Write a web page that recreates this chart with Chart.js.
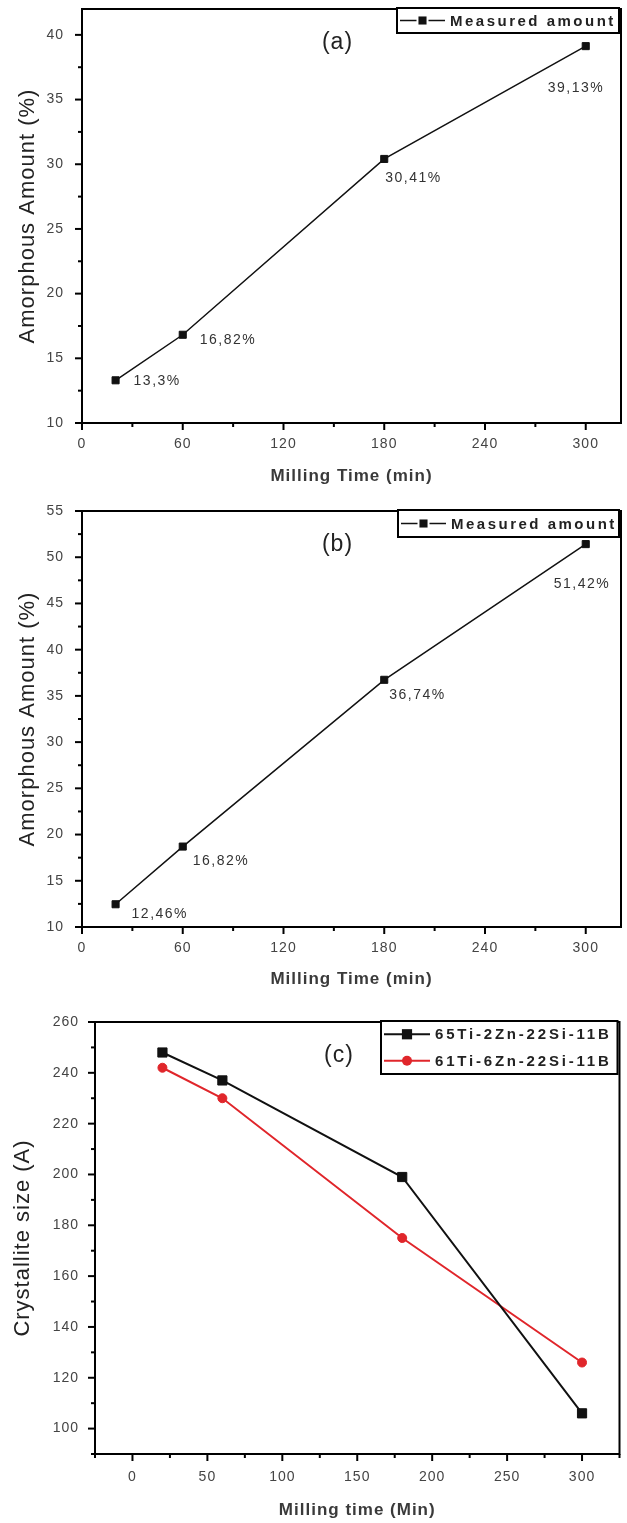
<!DOCTYPE html>
<html>
<head>
<meta charset="utf-8">
<script src="https://cdn.jsdelivr.net/npm/chart.js@4.4.1/dist/chart.umd.min.js"></script>
<style>
  html, body { margin: 0; padding: 0; background: #fff; }
  body { width: 627px; height: 1523px; position: relative; overflow: hidden; }
  canvas { position: absolute; left: 0; }
</style>
</head>
<body>
<canvas id="chartA" width="627" height="495" style="top:0px"></canvas>
<canvas id="chartB" width="627" height="518" style="top:495px"></canvas>
<canvas id="chartC" width="627" height="510" style="top:1013px"></canvas>
<script>
// ============================================
// DADOS
// ============================================
const tempos     = [20, 60, 180, 300];

const amorfoA    = [13.3, 16.82, 30.41, 39.13];
const rotulosA   = ['13,3%', '16,82%', '30,41%', '39,13%'];

const amorfoB    = [12.46, 18.7, 36.74, 51.42];
const rotulosB   = ['12,46%', '16,82%', '36,74%', '51,42%'];

const cristal65  = [248, 237, 199, 106];
const cristal61  = [242, 230, 175, 126];
const serieNomes = ['65Ti-2Zn-22Si-11B', '61Ti-6Zn-22Si-11B'];

const marcasXab  = [0, 60, 120, 180, 240, 300];
const marcasYa   = [10, 15, 20, 25, 30, 35, 40];
const marcasYb   = [10, 15, 20, 25, 30, 35, 40, 45, 50, 55];
const marcasXc   = [0, 50, 100, 150, 200, 250, 300];
const marcasYc   = [100, 120, 140, 160, 180, 200, 220, 240, 260];

const FONTE = 'Arial, "Liberation Sans", sans-serif';

// ============================================
// PLUGIN: moldura, ticks menores, legenda, rótulos
// ============================================
function menores(marcas, min, max) {
  const passo = marcas[1] - marcas[0];
  const out = [];
  for (let v = marcas[0] - passo / 2; v <= max + 1e-9; v += passo) {
    if (v >= min - 1e-9) out.push(v);
  }
  return out;
}

const pluginFigura = {
  id: 'figura',
  beforeDraw(chart) {
    chart.ctx.letterSpacing = '1px';
  },
  afterDraw(chart, args, o) {
    const { ctx, chartArea: a, scales: { x, y } } = chart;
    ctx.save();

    // ticks (fora da área)
    ctx.strokeStyle = '#000';
    ctx.lineWidth = 2;
    const marcar = (vals, len) => {
      vals.forEach(v => {
        const px = x.getPixelForValue(v);
        ctx.beginPath(); ctx.moveTo(px, a.bottom); ctx.lineTo(px, a.bottom + len); ctx.stroke();
      });
    };
    const marcarY = (vals, len) => {
      vals.forEach(v => {
        const py = y.getPixelForValue(v);
        ctx.beginPath(); ctx.moveTo(a.left - len, py); ctx.lineTo(a.left, py); ctx.stroke();
      });
    };
    marcar(o.marcasX, 7);
    marcar(menores(o.marcasX, x.min, x.max), 4);
    marcarY(o.marcasY, 7);
    marcarY(menores(o.marcasY, y.min, y.max), 4);

    // moldura
    ctx.strokeRect(a.left, a.top, a.width, a.height);

    // letra do painel
    ctx.fillStyle = '#222';
    ctx.font = '23px ' + FONTE;
    ctx.letterSpacing = '1px';
    ctx.textAlign = 'center';
    ctx.textBaseline = 'middle';
    ctx.fillText(o.letra, a.left + o.letraFx * a.width, a.top + 34);

    // rótulos de valor
    if (o.rotulos) {
      const meta = chart.getDatasetMeta(0);
      ctx.font = '14px ' + FONTE;
      ctx.letterSpacing = '1.5px';
      ctx.textAlign = 'left';
      ctx.fillStyle = '#333';
      meta.data.forEach((pt, i) => {
        const [dx, dy] = o.desloc[i];
        ctx.fillText(o.rotulos[i], pt.x + dx, pt.y + dy);
      });
    }

    // legenda
    const L = o.legenda;
    const bx = a.left + L.dx, by = a.top - 1;
    const bw = a.right - 2 - bx, bh = L.linha * chart.data.datasets.length;
    ctx.fillStyle = '#fff';
    ctx.fillRect(bx, by, bw, bh);
    ctx.lineWidth = 2;
    ctx.strokeStyle = '#000';
    ctx.strokeRect(bx, by, bw, bh);
    ctx.font = 'bold 15px ' + FONTE;
    ctx.letterSpacing = L.espaco;
    ctx.textAlign = 'left';
    chart.data.datasets.forEach((ds, i) => {
      const cy = by + L.linha * (i + 0.5);
      const x0 = bx + 3, x1 = bx + L.amostra, xm = (x0 + x1) / 2;
      ctx.strokeStyle = ds.borderColor;
      ctx.lineWidth = ds.borderWidth;
      ctx.beginPath();
      if (L.lacuna) {
        ctx.moveTo(x0, cy); ctx.lineTo(xm - L.lacuna, cy);
        ctx.moveTo(xm + L.lacuna, cy); ctx.lineTo(x1, cy);
      } else {
        ctx.moveTo(x0, cy); ctx.lineTo(x1, cy);
      }
      ctx.stroke();
      ctx.fillStyle = ds.pointBackgroundColor;
      if (ds.pointStyle === 'rect') {
        const s = ds.pointRadius * Math.SQRT2 + 1;
        ctx.fillRect(xm - s / 2, cy - s / 2, s, s);
      } else {
        ctx.beginPath(); ctx.arc(xm, cy, ds.pointRadius + 0.5, 0, Math.PI * 2); ctx.fill();
      }
      ctx.fillStyle = '#222';
      ctx.fillText(ds.label, x1 + 5, cy + 1);
    });

    ctx.restore();
  }
};

// ============================================
// MONTA UM PAINEL
// ============================================
function montar(id, c) {
  const eixoX = {
    type: 'linear', min: c.xMin, max: c.xMax,
    afterFit: s => { s.height = c.alturaX; s.paddingLeft = 0; s.paddingRight = 0; },
    afterBuildTicks: s => { s.ticks = c.marcasX.map(v => ({ value: v })); },
    grid: { display: false, drawTicks: false },
    border: { display: false },
    ticks: { color: '#444', font: { family: FONTE, size: 14 }, padding: c.padTickX, maxRotation: 0, autoSkip: false },
    title: { display: true, text: c.tituloX, color: '#3a3a3a',
             font: { family: FONTE, size: 17, weight: 'bold' }, padding: { top: 0, bottom: c.padTituloX } },
  };
  const eixoY = {
    type: 'linear', min: c.yMin, max: c.yMax,
    afterFit: s => { s.width = c.larguraY; s.paddingTop = 0; s.paddingBottom = 0; },
    afterBuildTicks: s => { s.ticks = c.marcasY.map(v => ({ value: v })); },
    grid: { display: false, drawTicks: false },
    border: { display: false },
    ticks: { color: '#444', font: { family: FONTE, size: 14 }, padding: c.padTickY, autoSkip: false },
    title: { display: true, text: c.tituloY, color: '#222',
             font: { family: FONTE, size: 22 }, padding: { top: c.padTituloY, bottom: 0 } },
  };

  return new Chart(document.getElementById(id), {
    type: 'line',
    data: { datasets: c.datasets },
    options: {
      responsive: false,
      animation: false,
      layout: { padding: { top: c.padTopo, right: 5, left: 0, bottom: 0 } },
      plugins: {
        legend: { display: false },
        tooltip: { enabled: false },
        figura: {
          marcasX: c.marcasX, marcasY: c.marcasY,
          letra: c.letra, letraFx: c.letraFx,
          rotulos: c.rotulos, desloc: c.desloc,
          legenda: c.legenda,
        },
      },
      scales: { x: eixoX, y: eixoY },
    },
    plugins: [pluginFigura],
  });
}

function serie(label, ys, cor, estilo, raio, espessura) {
  return {
    label,
    data: tempos.map((t, i) => ({ x: t, y: ys[i] })),
    borderColor: cor,
    borderWidth: espessura,
    pointStyle: estilo,
    pointRadius: raio,
    pointBorderWidth: 1,
    pointBackgroundColor: cor,
    pointBorderColor: cor,
    tension: 0,
  };
}

// (a)
montar('chartA', {
  xMin: 0, xMax: 321, yMin: 10, yMax: 42,
  marcasX: marcasXab, marcasY: marcasYa,
  alturaX: 72, larguraY: 82, padTopo: 9,
  padTickX: 13, padTickY: 18, padTituloX: 8, padTituloY: 15,
  tituloX: 'Milling Time (min)', tituloY: 'Amorphous Amount (%)',
  letra: '(a)', letraFx: 0.474,
  datasets: [serie('Measured amount', amorfoA, '#111', 'rect', 5, 1.5)],
  rotulos: rotulosA,
  desloc: [[18, 1], [17, 5], [1, 19], [-38, 42]],
  legenda: { dx: 315, linha: 25, amostra: 48, lacuna: 6, espaco: '2.5px' },
});

// (b)
montar('chartB', {
  xMin: 0, xMax: 321, yMin: 10, yMax: 55,
  marcasX: marcasXab, marcasY: marcasYb,
  alturaX: 86, larguraY: 82, padTopo: 16,
  padTickX: 13, padTickY: 18, padTituloX: 23, padTituloY: 15,
  tituloX: 'Milling Time (min)', tituloY: 'Amorphous Amount (%)',
  letra: '(b)', letraFx: 0.474,
  datasets: [serie('Measured amount', amorfoB, '#111', 'rect', 5, 1.5)],
  rotulos: rotulosB,
  desloc: [[16, 10], [10, 15], [5, 15], [-32, 40]],
  legenda: { dx: 316, linha: 27, amostra: 48, lacuna: 6, espaco: '2.5px' },
});

// (c)
montar('chartC', {
  xMin: -25, xMax: 325, yMin: 90, yMax: 260,
  marcasX: marcasXc, marcasY: marcasYc,
  alturaX: 69, larguraY: 95, padTopo: 9,
  padTickX: 15, padTickY: 16, padTituloX: 2, padTituloY: 10,
  tituloX: 'Milling time (Min)', tituloY: 'Crystallite size (A)',
  letra: '(c)', letraFx: 0.465,
  datasets: [
    serie(serieNomes[0], cristal65, '#111', 'rect', 6.5, 2),
    serie(serieNomes[1], cristal61, '#e0262b', 'circle', 4.5, 2),
  ],
  rotulos: null,
  desloc: null,
  legenda: { dx: 286, linha: 26.5, amostra: 49, lacuna: 0, espaco: '2.8px' },
});
</script>
</body>
</html>
